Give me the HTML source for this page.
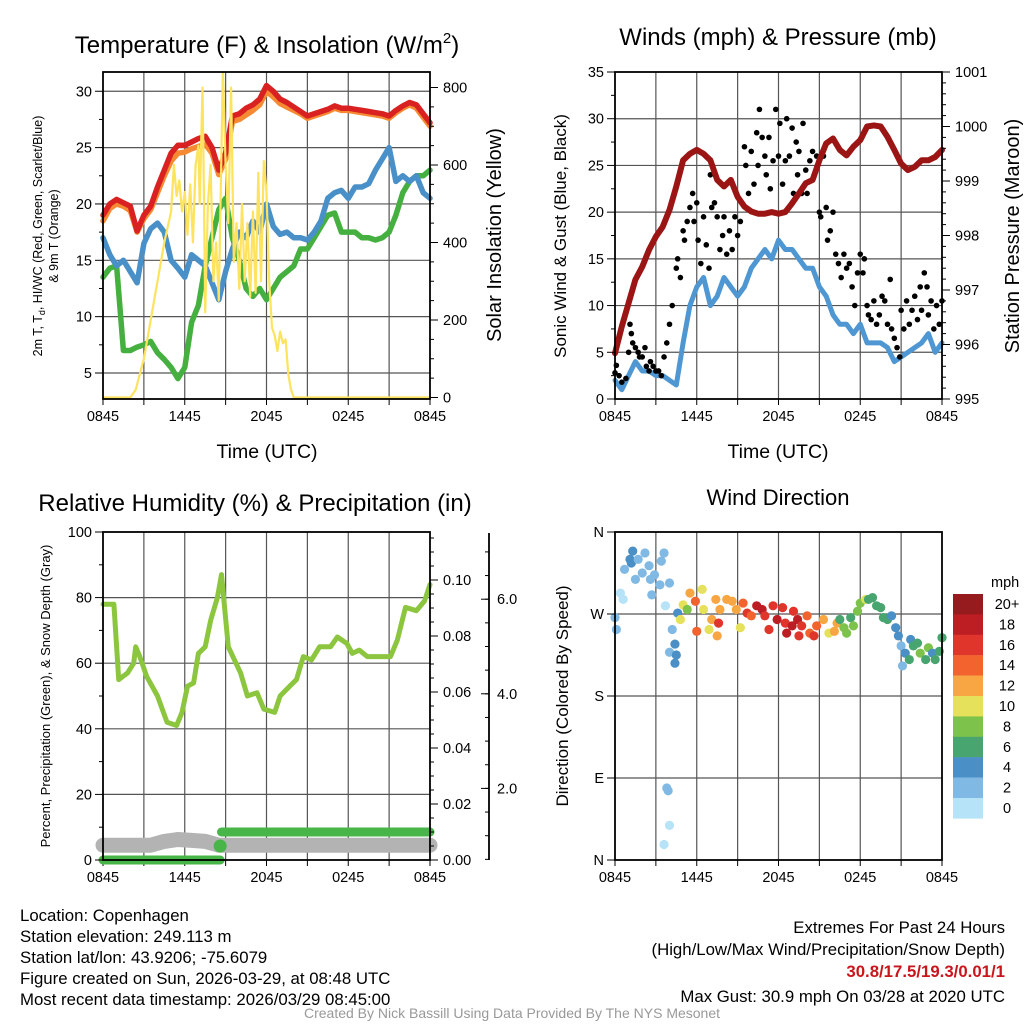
<!DOCTYPE html>
<html><head><meta charset="utf-8">
<style>
html,body{margin:0;padding:0;background:#fff;}
svg{display:block;font-family:"Liberation Sans",sans-serif;}
.info{font-size:16.8px;fill:#000;}
</style></head>
<body>
<svg id="fig" width="1024" height="1024" viewBox="0 0 1024 1024" xmlns="http://www.w3.org/2000/svg">
<g id="p1"></g>
<g id="p2"></g>
<g id="p3"></g>
<g id="p4"></g>
<g>
<text class="info" x="20" y="921">Location: Copenhagen</text>
<text class="info" x="20" y="942">Station elevation: 249.113 m</text>
<text class="info" x="20" y="963">Station lat/lon: 43.9206; -75.6079</text>
<text class="info" x="20" y="984">Figure created on Sun, 2026-03-29, at 08:48 UTC</text>
<text class="info" x="20" y="1005">Most recent data timestamp: 2026/03/29 08:45:00</text>
</g>
<g text-anchor="end">
<text class="info" x="1005" y="933">Extremes For Past 24 Hours</text>
<text class="info" x="1005" y="955">(High/Low/Max Wind/Precipitation/Snow Depth)</text>
<text class="info" x="1005" y="977" style="fill:#c8161d;font-weight:bold">30.8/17.5/19.3/0.01/1</text>
<text class="info" x="1005" y="1002">Max Gust: 30.9 mph On 03/28 at 2020 UTC</text>
</g>
<text x="512" y="1018" text-anchor="middle" font-size="14" fill="#999">Created By Nick Bassill Using Data Provided By The NYS Mesonet</text>
</svg>
<script>
// ---------- DATA ----------
var hours = [0,0.5,1,1.5,2,2.5,3,3.5,4,4.5,5,5.5,6,6.5,7,7.5,8,8.5,9,9.5,10,10.5,11,11.5,12,12.5,13,13.5,14,14.5,15,15.5,16,16.5,17,17.5,18,18.5,19,19.5,20,20.5,21,21.5,22,22.5,23,23.5,24];
var tempRed = [19,20,20.4,20.1,19.8,17.6,19,19.8,21.5,23,24.5,25.2,25.2,25.5,25.8,26,25,23,24.5,27.8,28,28.5,28.8,29.3,30.5,30,29.3,29,28.6,28.2,27.8,28,28.2,28.4,28.7,28.5,28.5,28.4,28.3,28.2,28.1,28,27.8,28.3,28.7,29,28.8,28,27.2];
var tempOrange = [18.5,19.6,20,19.8,19.4,17.5,18.7,19.5,21,22.5,23.8,24.5,24.6,24.9,25.1,25.3,24.5,22.6,24,27.3,27.5,27.9,28.3,28.8,30,29.5,28.9,28.6,28.3,28,27.6,27.8,28,28.2,28.5,28.3,28.3,28.2,28.1,28,27.9,27.8,27.6,28.1,28.5,28.8,28.5,27.7,26.9];
var tempBlue = [17,15.5,14.5,15,14,13,16.5,17.8,18.3,17.5,15,14.3,13.5,15.5,15,14.5,13,11.5,14,16,17.5,17,18.5,17.5,20,18,17.3,17.5,17,17,16.8,17.5,18.5,20.5,21,21.2,20.5,21.5,21.5,21.8,23,24,25,22,22.5,22,22.5,21,20.5];
var tempGreen = [13.5,14.3,14.5,7,7,7.3,7.5,7.8,6.8,6.2,5.5,4.5,5.5,9.5,11,14.5,17,19.5,20.5,17,15,12.5,11.8,12.5,11.5,12.5,13.5,14,14.5,16,16,17,18,19,19.2,17.5,17.5,17.5,17,17,16.8,17,17.5,19,21,22,22.5,22.5,23];
var solarT = [0,2,2.4,3,3.5,4,4.5,5,5.2,5.4,5.6,5.8,6,6.2,6.4,6.6,6.8,7,7.1,7.3,7.4,7.5,7.7,7.9,8.1,8.3,8.5,8.8,9,9.2,9.4,9.6,9.8,10,10.2,10.4,10.6,10.8,11,11.2,11.4,11.6,11.8,12,12.2,12.4,12.6,12.8,13,13.2,13.4,13.6,13.8,14,24];
var solarW = [0,0,20,100,200,300,400,480,600,520,560,480,530,420,550,400,600,650,500,800,550,220,500,600,300,400,250,850,600,450,800,350,450,280,500,300,450,260,480,270,580,300,610,530,300,180,160,120,170,140,150,60,20,0,0];
var pressure = [995.84,996.33,996.76,997.19,997.43,997.74,997.98,998.16,998.47,998.9,999.38,999.5,999.57,999.5,999.38,999.02,998.9,999.02,998.71,998.53,998.44,998.4,998.4,998.43,998.4,998.43,998.59,998.77,998.96,999.02,999.38,999.69,999.78,999.57,999.47,999.63,999.75,1000.0,1000.02,1000.0,999.81,999.57,999.32,999.2,999.26,999.38,999.38,999.44,999.57];
var windSpeed = [2,1,2.5,4,3,3,2.5,2.5,2,1.5,6,10,12,13,10,11,13,12,11,12,14,15,16,15,17,16,16,15,14,14,12,11,9,8,8,7,8,6,6,6,5.5,4,4.5,5,5.5,6,7,5,6];
var gustT = [0,0.1,0.3,0.5,0.8,1,1.1,1.2,1.3,1.5,1.7,1.8,2,2.2,2.3,2.5,2.6,2.8,3,3.2,3.4,3.6,3.8,4,4.2,4.5,4.6,4.8,5,5.1,5.3,5.5,5.7,5.8,6,6.1,6.3,6.5,6.7,6.9,7,7.1,7.3,7.5,7.7,7.9,8,8.2,8.4,8.6,8.8,9,9.2,9.5,9.6,9.8,10,10.2,10.4,10.5,10.6,10.8,11,11.1,11.3,11.4,11.6,11.8,12,12.1,12.3,12.5,12.6,12.8,13,13.1,13.3,13.4,13.5,13.7,13.8,14,14.1,14.3,14.5,14.8,15,15.1,15.3,15.5,15.6,15.8,16,16.2,16.4,16.6,16.8,17,17.2,17.4,17.6,17.8,18,18.2,18.3,18.5,18.6,18.8,19,19.2,19.4,19.6,19.8,20,20.2,20.3,20.5,20.7,20.9,21,21.2,21.4,21.6,21.8,22,22.2,22.4,22.5,22.7,22.9,23,23.2,23.4,23.6,23.8,24];
var gustV = [2.8,3.6,2.5,1.8,2.2,5,8,7,6,5.5,5,4.5,4.5,5.5,3.5,3,4,3.5,3,3,2.5,4.5,6,8,10,14,15,13,18,17,19,20.5,22,19,21,17,14.5,19.5,16.5,14,24,20.5,21,19.5,16,17.5,19.5,15.5,18,16,19.5,17.5,19,27,25,22,26.5,23,28.5,25,31,28,26,24,28,22.5,25.5,31,26,29.5,23,25.5,30,26,29,22,27.5,24,26.5,22,29.5,24.5,22,25.5,26.5,26,20,19.5,26,20.5,17,18,20,15.5,14.5,13,15.5,14,14.5,12,10,13.5,15.5,13.5,15,10,9,8.5,10.5,8,9,11,10.5,8,12.8,7.5,6.5,5.5,4.5,9.5,7.5,10.5,8,9.5,11,8.5,12,9.5,13.5,12,9,10.5,7.5,10,8,10.5];
var rhT = [0,0.8,1.15,1.8,2.25,2.4,2.7,3.2,4,4.7,5.4,5.8,6.2,6.65,7,7.5,7.9,8.4,8.7,9.2,10.1,10.6,11.3,11.8,12.6,13,13.7,14.2,14.7,15.3,15.9,16.7,17.2,17.9,18.3,18.8,19.4,20.3,21.1,21.6,22.2,23,23.6,24];
var rhV = [78,78,55,57,60,65,62,56,50,42,41,45,53,54,63,65,73,80,87,65,57,50,51,46,45,50,53,55,62,61,65,65,68,66,63,64,62,62,62,67,77,76,79,84];
var precipT = [0,8.6,8.7,24];
var precipV = [0,0,0.01,0.01];
var snowT = [0,3.5,4.5,5.5,6.5,7.5,8.5,9.5,24];
var snowV = [0.8,0.8,0.88,0.92,0.9,0.88,0.8,0.8,0.8];
var dirT = [0,0.1,0.4,0.6,0.7,1.1,1.3,1.2,1.5,1.7,2.0,2.2,2.5,2.6,2.9,3.3,3.4,3.6,2.7,3.7,4.0,4.2,4.0,4.4,4.4,4.5,4.6,3.8,3.9,4.0,3.6,4.8,5.0,5.3,5.5,5.9,6.0,6.4,6.5,6.9,7.1,7.4,7.5,7.6,7.7,8.2,8.6,8.9,9.2,9.4,9.7,10.0,10.4,10.8,11.0,11.3,11.6,11.9,12.3,12.5,12.6,13.0,13.1,13.4,13.5,13.7,14.1,14.3,14.6,14.8,15.3,15.7,16.1,16.3,16.5,16.8,17.0,17.3,17.5,17.8,18.0,18.4,18.6,18.9,19.2,19.5,19.7,20.0,20.3,20.6,20.8,21.0,21.1,21.3,21.6,21.7,21.9,22.2,22.4,22.8,23.0,23.3,23.5,23.8,24.0];
var dirDeg = [266,253,293,286,319,330,339,326,308,330,315,337,323,308,313,302,328,337,291,279,304,253,228,237,216,225,271,79,76,38,17,264,280,275,293,284,251,297,275,253,264,286,246,260,275,286,284,275,255,282,271,268,279,275,268,253,279,264,277,260,249,257,273,264,246,257,268,249,246,257,264,249,251,260,264,255,249,266,257,273,282,286,286,288,279,277,266,264,268,255,246,235,213,227,220,242,235,238,227,220,233,227,220,229,244];
var dirSpd = [2,2,1,1,2,4,4,4,3,2,2,2,2,2,2,2,2,2,2,1,2,2,2,4,4,4,4,3,2,1,1,10,10,8,12,14,14,10,10,10,12,12,12,16,12,12,12,12,10,14,16,14,18,18,16,16,16,18,16,16,18,18,16,18,16,16,14,14,16,14,12,10,12,12,6,8,8,6,8,8,8,10,6,6,6,6,6,6,4,4,4,2,2,4,6,4,6,6,8,6,8,4,6,6,6];
var scaleLabels = ["20+","18","16","14","12","10","8","6","4","2","0"];
var scaleColors = ["#951b1e","#bd1e24","#e0352b","#f2632d","#f7a643","#e6e15a","#7dc24b","#48a56f","#4a8fc5","#80b9e3","#b6e3f7"];
var timeLabels = ["0845","1445","2045","0245","0845"];

// ---------- helpers ----------
var NS = "http://www.w3.org/2000/svg";
function mk(parent, tag, attrs, text) {
  var e = document.createElementNS(NS, tag);
  for (var k in attrs) e.setAttribute(k, attrs[k]);
  if (text !== undefined) e.textContent = text;
  parent.appendChild(e);
  return e;
}
function linePath(ts, vs, xf, yf) {
  var d = "";
  for (var i = 0; i < ts.length; i++) d += (i ? "L" : "M") + xf(ts[i]).toFixed(1) + "," + yf(vs[i]).toFixed(1);
  return d;
}
function frame(g, x0, x1, y0, y1, xf, name) {
  var gl = mk(g, "g", {stroke: "#555", "stroke-width": 1.2});
  
  
  for (var h = 3; h < 24; h += 3) mk(gl, "line", {x1: xf(h), x2: xf(h), y1: y0, y2: y1});
  var xt = mk(g, "g", {"font-size": 14.5, "text-anchor": "middle"});
  
  
  for (var i = 0; i < timeLabels.length; i++) {
    var hh = i * 6;
    mk(xt, "text", {x: xf(hh), y: y1 + 22}, timeLabels[i]);
  }
  for (var h2 = 0; h2 <= 24; h2 += 3) mk(xt, "line", {x1: xf(h2), x2: xf(h2), y1: y1, y2: y1 + 6, stroke: "#000"});
}
function border(g, x0, x1, y0, y1) {
  mk(g, "rect", {x: x0, y: y0, width: x1 - x0, height: y1 - y0, fill: "none", stroke: "#000", "stroke-width": 1.8});
}
function hgrid(g, vals, yf, x0, x1) {
  for (var i = 0; i < vals.length; i++) mk(g, "line", {x1: x0, x2: x1, y1: yf(vals[i]), y2: yf(vals[i]), stroke: "#555", "stroke-width": 1.2});
}
function leftTicks(g, vals, labels, yf, x0, minor) {
  var t = mk(g, "g", {"font-size": 14.5, "text-anchor": "end"});
  for (var i = 0; i < vals.length; i++) {
    mk(t, "line", {x1: x0 - 8, x2: x0, y1: yf(vals[i]), y2: yf(vals[i]), stroke: "#000"});
    mk(t, "text", {x: x0 - 11, y: yf(vals[i]) + 5}, labels[i]);
  }
  for (var j = 0; j < minor.length; j++) mk(t, "line", {x1: x0 - 4, x2: x0, y1: yf(minor[j]), y2: yf(minor[j]), stroke: "#000"});
  return t;
}
function rightTicks(g, vals, labels, yf, x0, minor) {
  var t = mk(g, "g", {"font-size": 14.5, "text-anchor": "start"});
  for (var i = 0; i < vals.length; i++) {
    mk(t, "line", {x1: x0, x2: x0 + 8, y1: yf(vals[i]), y2: yf(vals[i]), stroke: "#000"});
    mk(t, "text", {x: x0 + 13, y: yf(vals[i]) + 5}, labels[i]);
  }
  for (var j = 0; j < minor.length; j++) mk(t, "line", {x1: x0, x2: x0 + 4, y1: yf(minor[j]), y2: yf(minor[j]), stroke: "#000"});
  return t;
}
function range(a, b, s) { var r = []; for (var v = a; v <= b + 1e-9; v += s) r.push(+v.toFixed(4)); return r; }
function speedColor(s) { var idx = Math.min(10, Math.floor(s / 2)); return scaleColors[10 - idx]; }

// ---------- PANEL 1 ----------
(function () {
  var g = document.getElementById("p1");
  var X = function (h) { return 103 + h * 327 / 24; };
  var YT = function (t) { return 373 - (t - 5) * 11.27; };
  var YW = function (w) { return 397.5 - w * 310 / 800; };
  frame(g, 103, 430, 72, 399, X, "temp");
  hgrid(g, [5, 10, 15, 20, 25, 30], YT, 103, 430);
  var clip = mk(g, "clipPath", {id: "c1"}); mk(clip, "rect", {x: 100, y: 72, width: 333, height: 330});
  var s = mk(g, "g", {"clip-path": "url(#c1)", fill: "none", "stroke-linejoin": "round", "stroke-linecap": "round"});
  var p;
  p = mk(s, "path", {d: linePath(hours, tempGreen, X, YT), stroke: "#45b040", "stroke-width": 5.5});
   
  p = mk(s, "path", {d: linePath(hours, tempBlue, X, YT), stroke: "#4a90c8", "stroke-width": 5.5});
   
  p = mk(s, "path", {d: linePath(hours, tempOrange, X, YT), stroke: "#f58a32", "stroke-width": 5.5});
   
  p = mk(s, "path", {d: linePath(hours, tempRed, X, YT), stroke: "#d92121", "stroke-width": 5.5});
   
  p = mk(s, "path", {d: linePath(solarT, solarW, X, YW), stroke: "#fde35e", "stroke-width": 2.2});
   
  border(g, 103, 430, 72, 399);
  var lt = leftTicks(g, [5, 10, 15, 20, 25, 30], ["5", "10", "15", "20", "25", "30"], YT, 103, [7.5, 12.5, 17.5, 22.5, 27.5]);
   
  var rt = rightTicks(g, [0, 200, 400, 600, 800], ["0", "200", "400", "600", "800"], YW, 430, [50,100,150,250,300,350,450,500,550,650,700,750]);
   
  var t = mk(g, "text", {x: 267, y: 53, "font-size": 24, "text-anchor": "middle"});
  t.innerHTML = 'Temperature (F) &amp; Insolation (W/m<tspan font-size="15" dy="-10">2</tspan><tspan dy="10">)</tspan>';
   
  t = mk(g, "text", {x: 267, y: 458, "font-size": 19.5, "text-anchor": "middle"}, "Time (UTC)");
   
  t = mk(g, "text", {transform: "translate(42,236) rotate(-90)", "font-size": 12.5, "text-anchor": "middle"});
  t.innerHTML = '2m T, T<tspan font-size="9" dy="3">d</tspan><tspan dy="-3">, HI/WC (Red, Green, Scarlet/Blue)</tspan>';
   
  t = mk(g, "text", {transform: "translate(58,236) rotate(-90)", "font-size": 12.5, "text-anchor": "middle"}, "& 9m T (Orange)");
   
  t = mk(g, "text", {transform: "translate(501,235) rotate(-90)", "font-size": 20, "text-anchor": "middle"}, "Solar Insolation (Yellow)");
   
})();

// ---------- PANEL 2 ----------
(function () {
  var g = document.getElementById("p2");
  var X = function (h) { return 615 + h * 327 / 24; };
  var YV = function (v) { return 399 - v * 327 / 35; };
  var YP = function (p) { return 399 - (p - 995) * 327 / 6; };
  frame(g, 615, 942, 72, 399, X, "wind");
  hgrid(g, [5, 10, 15, 20, 25, 30], YV, 615, 942);
  var clip = mk(g, "clipPath", {id: "c2"}); mk(clip, "rect", {x: 612, y: 72, width: 333, height: 327});
  var s = mk(g, "g", {"clip-path": "url(#c2)", fill: "none", "stroke-linejoin": "round", "stroke-linecap": "round"});
  var p = mk(s, "path", {d: linePath(hours, windSpeed, X, YV), stroke: "#4e97d2", "stroke-width": 5});
   
  var dots = mk(s, "g", {fill: "#000"});
   
  for (var i = 0; i < gustT.length; i++) {
    var c = mk(dots, "circle", {cx: X(gustT[i]), cy: YV(gustV[i]), r: 2.8});
    
    
  }
  p = mk(s, "path", {d: linePath(hours, pressure, X, YP), stroke: "#9b1515", "stroke-width": 6});
   
  border(g, 615, 942, 72, 399);
  var lt = leftTicks(g, [0, 5, 10, 15, 20, 25, 30, 35], ["0", "5", "10", "15", "20", "25", "30", "35"], YV, 615, [2.5, 7.5, 12.5, 17.5, 22.5, 27.5, 32.5]);
   
  var rt = rightTicks(g, [995, 996, 997, 998, 999, 1000, 1001], ["995", "996", "997", "998", "999", "1000", "1001"], YP, 942, range(995.2, 1000.8, 0.2));
   
  var t = mk(g, "text", {x: 778, y: 45, "font-size": 24, "text-anchor": "middle"}, "Winds (mph) & Pressure (mb)");
   
  t = mk(g, "text", {x: 778, y: 458, "font-size": 19.5, "text-anchor": "middle"}, "Time (UTC)");
   
  t = mk(g, "text", {transform: "translate(566,236) rotate(-90)", "font-size": 17, "text-anchor": "middle"}, "Sonic Wind & Gust (Blue, Black)");
   
  t = mk(g, "text", {transform: "translate(1019,236) rotate(-90)", "font-size": 20, "text-anchor": "middle"}, "Station Pressure (Maroon)");
   
})();

// ---------- PANEL 3 ----------
(function () {
  var g = document.getElementById("p3");
  var X = function (h) { return 103 + h * 327 / 24; };
  var YR = function (v) { return 860 - v * 3.28; };
  var YI = function (v) { return 860 - v * 2800; };
  var YS = function (v) { return 883 - v * 47.3; };
  frame(g, 103, 430, 532, 860, X, "rh");
  hgrid(g, [20, 40, 60, 80], YR, 103, 430);
  var s = mk(g, "g", {fill: "none", "stroke-linejoin": "round", "stroke-linecap": "round"});
  var p = mk(s, "path", {d: linePath(snowT, snowV, X, YS), stroke: "#b3b3b3", "stroke-width": 15});
   
  p = mk(s, "path", {d: linePath([precipT[0], precipT[1]], [precipV[0], precipV[1]], X, YI), stroke: "#47b547", "stroke-width": 9});
   
  p = mk(s, "path", {d: linePath([precipT[2], precipT[3]], [precipV[2], precipV[3]], X, YI), stroke: "#47b547", "stroke-width": 9});
   
  var c = mk(s, "circle", {cx: X(precipT[1]), cy: YI(0.005), r: 6.5, fill: "#47b547", stroke: "none"});
   
  p = mk(s, "path", {d: linePath(rhT, rhV, X, YR), stroke: "#8cc63f", "stroke-width": 5});
   
  border(g, 103, 430, 532, 860);
  var lt = leftTicks(g, [0, 20, 40, 60, 80, 100], ["0", "20", "40", "60", "80", "100"], YR, 103, [10, 30, 50, 70, 90]);
   
  var rt = rightTicks(g, [0, 0.02, 0.04, 0.06, 0.08, 0.1], ["0.00", "0.02", "0.04", "0.06", "0.08", "0.10"], YI, 430, range(0.005, 0.115, 0.005));
   
  var sa = mk(g, "g", {"font-size": 14.5});
   
  mk(sa, "line", {x1: 489, x2: 489, y1: 533, y2: 860, stroke: "#000", "stroke-width": 1.8});
  var sv = [2, 4, 6];
  for (var i = 0; i < sv.length; i++) {
    mk(sa, "line", {x1: 481, x2: 489, y1: YS(sv[i]), y2: YS(sv[i]), stroke: "#000"});
    mk(sa, "text", {x: 497, y: YS(sv[i]) + 5}, sv[i].toFixed(1));
  }
  var sm = range(0.5, 7, 0.5);
  for (var j = 0; j < sm.length; j++) if (YS(sm[j]) > 533 && YS(sm[j]) < 860) mk(sa, "line", {x1: 485, x2: 489, y1: YS(sm[j]), y2: YS(sm[j]), stroke: "#000"});
  var t = mk(g, "text", {x: 255, y: 511, "font-size": 24, "text-anchor": "middle"}, "Relative Humidity (%) & Precipitation (in)");
   
  t = mk(g, "text", {transform: "translate(50,696) rotate(-90)", "font-size": 13, "text-anchor": "middle"}, "Percent, Precipitation (Green), & Snow Depth (Gray)");
   
})();

// ---------- PANEL 4 ----------
(function () {
  var g = document.getElementById("p4");
  var X = function (h) { return 615 + h * 327 / 24; };
  var YD = function (d) { return 532 + (360 - d) / 360 * 328; };
  frame(g, 615, 942, 532, 860, X, "dir");
  hgrid(g, [90, 180, 270], YD, 615, 942);
  var dots = mk(g, "g", {});
   
  for (var i = 0; i < dirT.length; i++) {
    var c = mk(dots, "circle", {cx: X(dirT[i]), cy: YD(dirDeg[i]), r: 4.6, fill: speedColor(dirSpd[i])});
    
    
  }
  border(g, 615, 942, 532, 860);
  var lt = leftTicks(g, [360, 270, 180, 90, 0], ["N", "W", "S", "E", "N"], YD, 615, []);
   
  var t = mk(g, "text", {x: 778, y: 505, "font-size": 22, "text-anchor": "middle"}, "Wind Direction");
   
  t = mk(g, "text", {transform: "translate(568,696) rotate(-90)", "font-size": 17, "text-anchor": "middle"}, "Direction (Colored By Speed)");
   
  var cb = mk(g, "g", {"font-size": 14.5});
   
  mk(cb, "text", {x: 991, y: 587}, "mph");
  for (var k = 0; k < scaleColors.length; k++) {
    var y = 594 + k * 20.4;
    var r = mk(cb, "rect", {x: 953, y: y, width: 30, height: 20.6, fill: scaleColors[k]});
    
    
    mk(cb, "text", {x: 1007, y: y + 15, "text-anchor": "middle"}, scaleLabels[k]);
  }
})();
</script>
</body></html>
